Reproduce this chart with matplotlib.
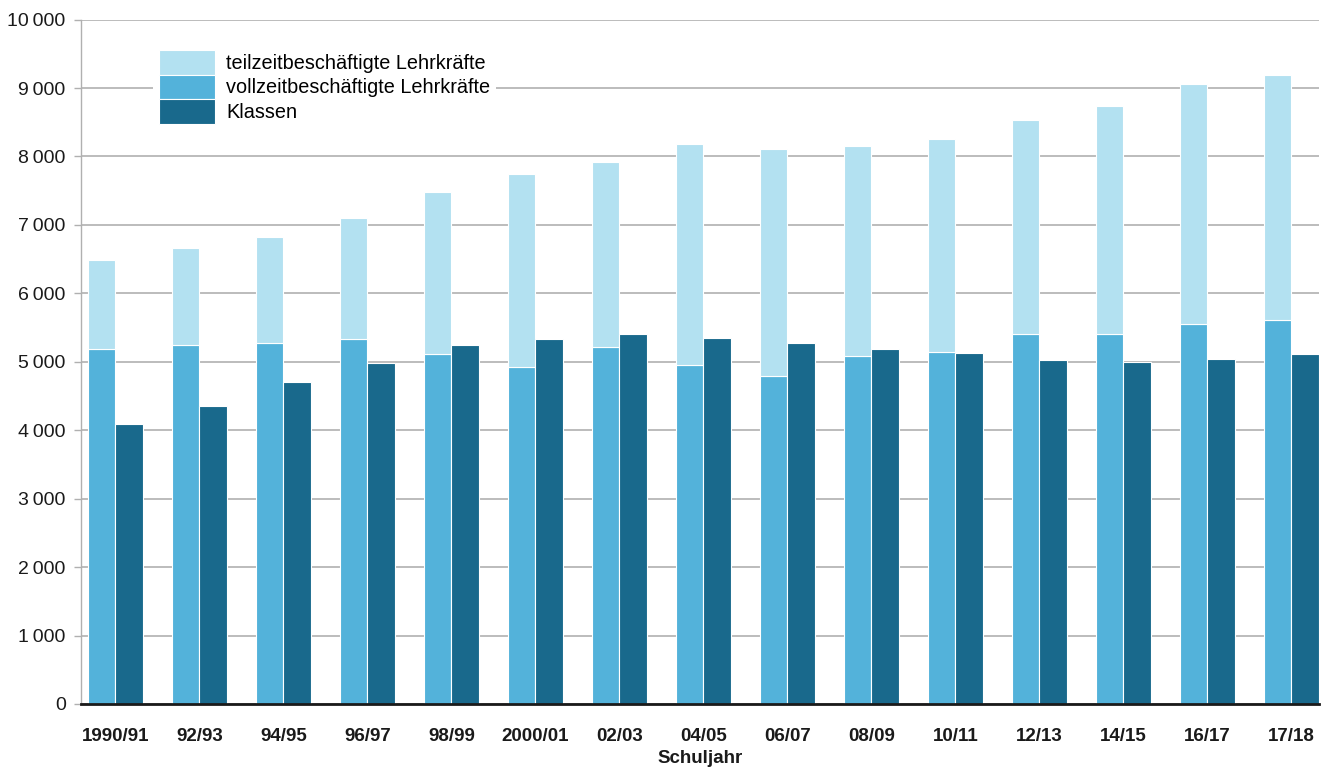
import numpy as np
import matplotlib.pyplot as plt
from matplotlib.patches import Patch

# Daten
schuljahre = ["1990/91", "92/93", "94/95", "96/97", "98/99", "2000/01", "02/03", "04/05",
              "06/07", "08/09", "10/11", "12/13", "14/15", "16/17", "17/18"]
vollzeit = [5190, 5250, 5270, 5340, 5120, 4930, 5210, 4960, 4790, 5080, 5150, 5400, 5400, 5550, 5610]
teilzeit = [1300, 1420, 1560, 1760, 2360, 2810, 2710, 3220, 3320, 3070, 3100, 3130, 3340, 3510, 3580]
klassen = [4090, 4350, 4700, 4980, 5240, 5340, 5410, 5350, 5280, 5190, 5130, 5020, 5000, 5040, 5120]
yticks = np.arange(0, 10001, 1000)

c_teil = "#b3e1f1"
c_voll = "#53b2da"
c_klassen = "#19698c"

plt.rcParams['font.family'] = ['Liberation Sans', 'DejaVu Sans']

fig = plt.figure(figsize=(13.21, 7.69), dpi=100)
ax = fig.add_axes([81/1321, 65/769, (1319-81)/1321, (749.4-65)/769])

x = np.arange(len(schuljahre))
w = 0.33

ax.bar(x - w/2, vollzeit, w, color=c_voll, edgecolor="white", linewidth=0.8, zorder=3)
ax.bar(x - w/2, teilzeit, w, bottom=vollzeit, color=c_teil, edgecolor="white", linewidth=0.8, zorder=3)
ax.bar(x + w/2, klassen, w, color=c_klassen, edgecolor="white", linewidth=0.8, zorder=3)

ax.set_xlim(-0.41, 14.33)
ax.set_ylim(0, 10000)
ax.set_yticks(yticks)
ax.set_yticklabels([f"{v:,}".replace(",", "\u202f") for v in yticks], fontsize=14, color="#1a1a1a")
ax.yaxis.grid(True, color="#b0b0b0", linewidth=1.2, zorder=0)
ax.set_axisbelow(True)
ax.tick_params(axis="y", length=5, width=1, color="#b0b0b0", pad=6)

ax.set_xticks(x)
ax.set_xticklabels(schuljahre, fontsize=13.5, fontweight="bold", color="#1a1a1a")
ax.tick_params(axis="x", length=0, pad=17)
ax.set_xlabel("Schuljahr", fontsize=13.5, fontweight="bold", color="#1a1a1a", labelpad=4)

for s in ["top", "right"]:
    ax.spines[s].set_visible(False)
ax.spines["left"].set_color("#b0b0b0")
ax.spines["left"].set_linewidth(1)
ax.spines["bottom"].set_color("#1a1a1a")
ax.spines["bottom"].set_linewidth(2)
ax.spines["bottom"].set_zorder(4)

handles = [Patch(facecolor=c_teil, edgecolor="white", linewidth=0.8),
           Patch(facecolor=c_voll, edgecolor="white", linewidth=0.8),
           Patch(facecolor=c_klassen, edgecolor="white", linewidth=0.8)]
labels = ["teilzeitbeschäftigte Lehrkräfte", "vollzeitbeschäftigte Lehrkräfte", "Klassen"]
leg = ax.legend(handles, labels, loc="upper left", bbox_to_anchor=(153/1321, 1 - 44/769),
                bbox_transform=fig.transFigure, fontsize=14.3, frameon=True, fancybox=False,
                handlelength=2.82, handleheight=1.53, labelspacing=0, handletextpad=0.55,
                borderpad=0.3, borderaxespad=0)
leg.get_frame().set_facecolor("white")
leg.get_frame().set_edgecolor("none")
leg.get_frame().set_alpha(1)
leg.set_zorder(5)

fig.savefig("out.png", dpi=100)
